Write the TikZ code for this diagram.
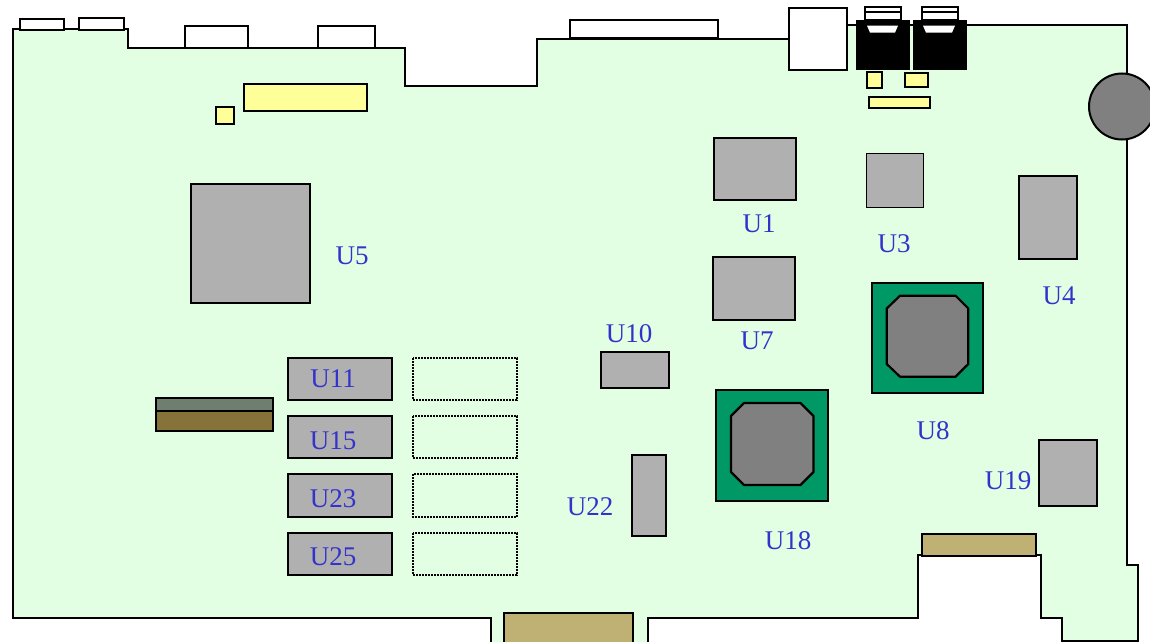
\documentclass[tikz,border=0pt]{standalone}
\usepackage{fontspec}
\setmainfont{Liberation Serif}
\usepackage{xcolor}
\definecolor{boardgreen}{HTML}{E3FFE3}
\definecolor{chipgray}{HTML}{B0B0B0}
\definecolor{coregray}{HTML}{808080}
\definecolor{bgagreen}{HTML}{009966}
\definecolor{partyellow}{HTML}{FFFF99}
\definecolor{slottan}{HTML}{BFB173}
\definecolor{slotbrown}{HTML}{85733A}
\definecolor{slotgray}{HTML}{6F7F6F}
\definecolor{reflabel}{HTML}{3333CC}

\begin{document}
\begin{tikzpicture}[x=0.5pt, y=-0.5pt, line/.style={draw=black, line width=#1}, every node/.style={inner sep=0pt}]
    % Define styles for parts and labels
    \tikzstyle{board} = [line=1pt, fill=boardgreen, line join=miter]
    \tikzstyle{port} = [line=1pt, fill=white]
    \tikzstyle{chip} = [line=1pt, fill=chipgray]
    \tikzstyle{bga} = [line=1.1pt, fill=bgagreen]
    \tikzstyle{core} = [line=1.1pt, fill=coregray, line join=round]
    \tikzstyle{small} = [line=1pt, fill=partyellow]
    \tikzstyle{slot} = [line=1pt, fill=slottan]
    \tikzstyle{empty} = [line=1pt, dash pattern=on 1pt off 0.5pt]
    \tikzstyle{reflab} = [text=reflabel, font=\fontsize{13.5}{16}\selectfont]

    \useasboundingbox (0,0) rectangle (1150,642);

    % Board outline
    \draw[board] (648,642) -- (648,618) -- (918,618) -- (918,555) -- (1041,555) -- (1041,618) -- (1062,618)
        -- (1062,641) -- (1138,641) -- (1138,565) -- (1127,565) -- (1127,25) -- (847,25) -- (847,39) -- (537,39)
        -- (537,86) -- (405,86) -- (405,48) -- (128,48) -- (128,29) -- (13,29) -- (13,618) -- (491,618) -- (491,642);

    % Ports along the top edge
    \draw[port] (20,19) rectangle (64,30);
    \draw[port] (79,18) rectangle (124,30);
    \draw[port] (184.5,26) rectangle (248,48);
    \draw[port] (318,26) rectangle (374.5,48);
    \draw[port] (570,20) rectangle (718,38);
    \draw[port] (789,8) rectangle (846.5,70);

    % Jacks
    \draw[port, line=0.7pt] (865,7) rectangle (901,20);
    \draw[line=0.7pt] (865,12) -- (901,12);
    \draw[port, line=0.7pt] (922,7) rectangle (958,20);
    \draw[line=0.7pt] (922,12) -- (958,12);
    \fill[black] (856,20) rectangle (910,70);
    \fill[black] (913,20) rectangle (967,70);
    \fill[white] (867,25.7) -- (898,25.7) -- (895,32.7) -- (870,32.7) -- cycle;
    \fill[white] (923,25.7) -- (955,25.7) -- (952,32.7) -- (926,32.7) -- cycle;

    % Small yellow parts
    \draw[small] (244,84) rectangle (367,111);
    \draw[small] (216,107) rectangle (234,124);
    \draw[small] (866.5,72.5) rectangle (882,88);
    \draw[small] (904.5,73.5) rectangle (928,87.5);
    \draw[small] (868.5,97.5) rectangle (929.5,108.5);

    % Battery
    \draw[line=1pt, fill=coregray] (1122,106.5) circle (33);

    % Chips
    \draw[chip] (714,138) rectangle (796,200);
    \draw[chip, line=0.5pt] (866,153) rectangle (923,207);
    \draw[chip] (1019,176) rectangle (1077,259);
    \draw[chip] (191,184) rectangle (310,303);
    \draw[chip] (713,257) rectangle (795,320);
    \draw[chip] (601,352) rectangle (669,388);
    \draw[chip] (1039,440) rectangle (1097,506);
    \draw[chip] (632,455) rectangle (666,536);

    % Memory chips and their empty places
    \draw[chip] (288,358) rectangle (392,400);
    \draw[chip] (288,416) rectangle (392,458);
    \draw[chip] (288,474) rectangle (392,517);
    \draw[chip] (288,533) rectangle (392,575);
    \draw[empty] (413,358) rectangle (517,400);
    \draw[empty] (413,416) rectangle (517,458);
    \draw[empty] (413,474) rectangle (517,517);
    \draw[empty] (413,533) rectangle (517,575);

    % Side slot
    \draw[line=1pt, fill=slotgray] (156,398) rectangle (273,411);
    \draw[line=1pt, fill=slotbrown] (156,411) rectangle (273,431);

    % Large packages
    \draw[bga] (871.7,282.7) rectangle (982.7,393.3);
    \draw[core] (900,295.7) -- (955.5,295.7) -- (968.3,308.5) -- (968.3,364) -- (955.5,376.7) -- (900,376.7)
        -- (886.7,364) -- (886.7,308.5) -- cycle;
    \draw[bga] (716,390) rectangle (827.7,500.7);
    \draw[core] (744,403) -- (800.5,403) -- (813.5,416) -- (813.5,472) -- (800.5,485) -- (744,485)
        -- (731,472) -- (731,416) -- cycle;

    % Edge connectors
    \draw[slot] (922,534) rectangle (1036,556);
    \draw[slot] (633,642) -- (633,613) -- (504,613) -- (504,642);

    % Labels
    \node[reflab] (u1label) at (759,224) {U1};
    \node[reflab] (u3label) at (894,244) {U3};
    \node[reflab] (u4label) at (1059,296) {U4};
    \node[reflab] (u5label) at (352,256) {U5};
    \node[reflab] (u7label) at (757,341) {U7};
    \node[reflab] (u8label) at (933,431) {U8};
    \node[reflab] (u10label) at (629,334) {U10};
    \node[reflab] (u11label) at (333,379) {U11};
    \node[reflab] (u15label) at (333,441) {U15};
    \node[reflab] (u18label) at (788,541) {U18};
    \node[reflab] (u19label) at (1008,481) {U19};
    \node[reflab] (u22label) at (590,507) {U22};
    \node[reflab] (u23label) at (333,499) {U23};
    \node[reflab] (u25label) at (333,557) {U25};
\end{tikzpicture}
\end{document}
